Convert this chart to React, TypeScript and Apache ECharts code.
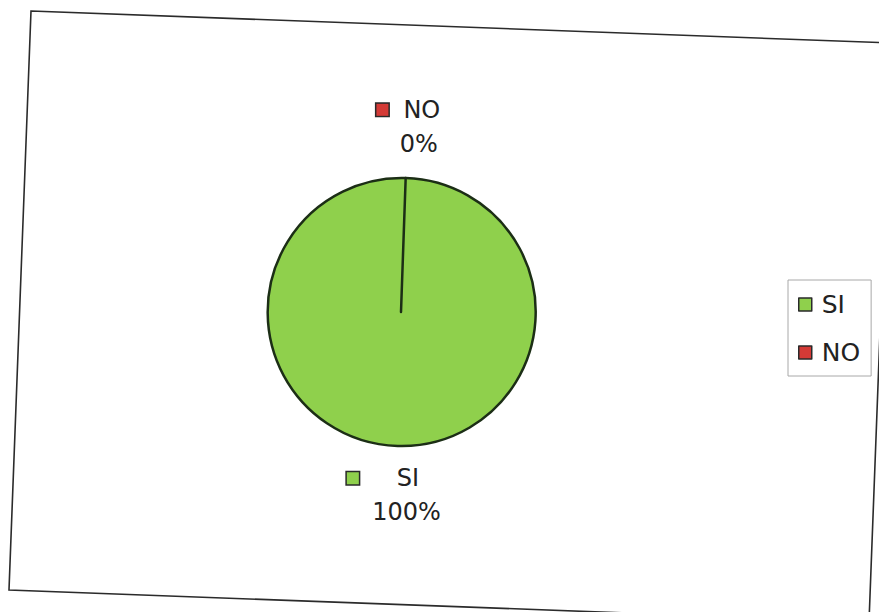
import React, { useEffect, useRef } from "react";
import * as echarts from "echarts";

const categories = ["SI", "NO"];
const values = [100, 0];
const colors = ["#8fd04c", "#d43a36"];
const labelGaps = [38, 15];
const labelTrails = [47, 21];

export default function App() {
  const ref = useRef<HTMLDivElement>(null);
  useEffect(() => {
    if (!ref.current) return;
    const chart = echarts.init(ref.current, null, { renderer: "svg" });
    const font = "DejaVu Sans";
    const rich: any = {
      name: { fontSize: 24, lineHeight: 34, fontFamily: font, color: "#222" },
      pct: { fontSize: 24, lineHeight: 34, fontFamily: font, color: "#222" },
    };
    categories.forEach((_, i) => {
      rich["sq" + i] = {
        width: 12,
        height: 12,
        backgroundColor: colors[i],
        borderColor: "#2a2a2a",
        borderWidth: 1.5,
      };
      rich["gap" + i] = { width: labelGaps[i] };
      rich["trail" + i] = { width: labelTrails[i] };
    });
    chart.setOption({
      animation: false,
      backgroundColor: "#ffffff",
      textStyle: { fontFamily: font, color: "#222" },
      graphic: [
        {
          type: "polygon",
          shape: {
            points: [
              [31, 11],
              [891, 43],
              [869, 622],
              [9, 590],
            ],
          },
          style: { fill: "none", stroke: "#2b2b2b", lineWidth: 1.6 },
          silent: true,
        },
      ],
      legend: {
        orient: "vertical",
        left: 788,
        top: 280,
        padding: [12, 11, 11, 10],
        borderColor: "#a8a8a8",
        borderWidth: 1,
        itemGap: 23,
        itemWidth: 13,
        itemHeight: 13,
        icon: "rect",
        itemStyle: { borderColor: "#2a2a2a", borderWidth: 1.5 },
        textStyle: {
          fontSize: 25,
          lineHeight: 25,
          fontFamily: font,
          color: "#222",
          padding: [0, 0, 0, 5],
        },
        data: categories,
      },
      series: [
        {
          type: "pie",
          center: [401, 312],
          radius: 134,
          startAngle: 88,
          clockwise: true,
          itemStyle: { borderColor: "#1c2e16", borderWidth: 2.5 },
          label: {
            show: true,
            position: "outside",
            formatter: (p: any) =>
              `{sq${p.dataIndex}|}{gap${p.dataIndex}|}{name|${p.name}}{trail${p.dataIndex}|}\n{pct|${Math.round(p.percent)}%}`,
            rich,
          },
          labelLine: { show: false },
          labelLayout: (p: any) => {
            const r = p.rect;
            const cx = r.x + r.width / 2;
            if (p.dataIndex === 0) {
              return { x: cx + 5.5, y: r.y + r.height + 14, align: "center", verticalAlign: "top" };
            }
            return { x: cx + 15.5, y: r.y - 16, align: "center", verticalAlign: "bottom" };
          },
          data: categories.map((c, i) => ({
            name: c,
            value: values[i],
            itemStyle: { color: colors[i] },
          })),
        },
      ],
    });
    return () => chart.dispose();
  }, []);
  return (
    <div
      ref={ref}
      style={{ position: "absolute", left: 0, top: 0, width: 879, height: 612 }}
    />
  );
}
